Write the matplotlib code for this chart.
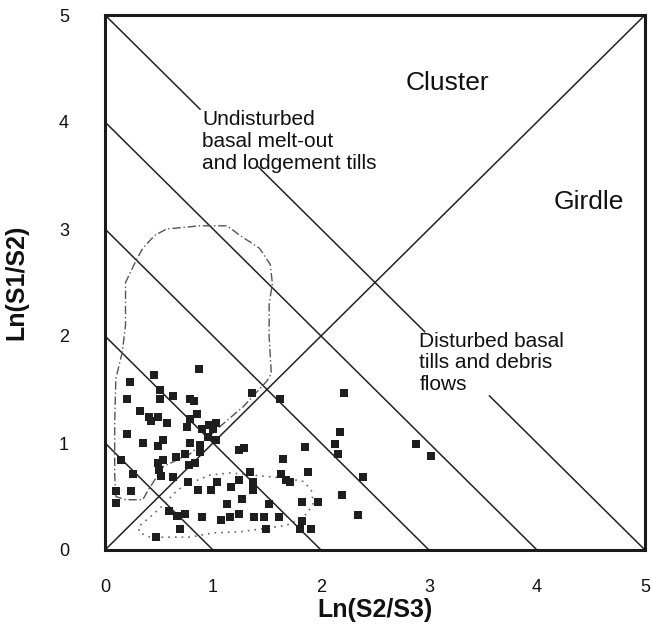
import numpy as np
import matplotlib.pyplot as plt

plt.rcParams['font.family'] = ['Liberation Sans', 'DejaVu Sans']

# точки: Ln(S2/S3), Ln(S1/S2)
x_pts = [0.87, 0.45, 0.23, 0.51, 0.63, 0.51, 0.20, 0.79, 0.82, 0.32,
         0.41, 0.49, 0.43, 0.57, 0.85, 0.79, 0.76, 0.90, 0.96, 1.03,
         1.00, 0.95, 1.03, 0.20, 0.35, 0.54, 0.49, 0.79, 0.88, 0.88,
         0.66, 0.74, 0.15, 0.54, 0.49, 0.50, 0.52, 0.78, 0.83, 0.26,
         0.63, 1.24, 1.29, 1.36, 1.62, 2.21, 2.18, 2.13, 2.16, 1.85,
         1.65, 1.88, 1.63, 1.68, 1.71, 1.34, 1.37, 1.37, 0.77, 1.04,
         1.24, 1.17, 0.86, 0.98, 0.10, 0.10, 0.24, 2.19, 1.27, 1.13,
         1.52, 1.82, 1.97, 0.59, 0.67, 0.74, 0.90, 1.07, 1.16, 1.24,
         1.38, 1.47, 1.61, 0.69, 1.49, 1.82, 1.81, 1.91, 0.47, 2.39,
         2.34, 2.88, 3.02]
y_pts = [1.69, 1.64, 1.57, 1.50, 1.44, 1.41, 1.41, 1.41, 1.39, 1.30,
         1.24, 1.24, 1.21, 1.19, 1.27, 1.22, 1.15, 1.13, 1.17, 1.19,
         1.13, 1.06, 1.03, 1.08, 1.00, 1.03, 0.97, 1.00, 0.98, 0.92,
         0.87, 0.90, 0.84, 0.84, 0.81, 0.75, 0.69, 0.79, 0.81, 0.71,
         0.68, 0.93, 0.95, 1.47, 1.41, 1.47, 1.10, 0.99, 0.90, 0.96,
         0.85, 0.73, 0.71, 0.65, 0.64, 0.73, 0.64, 0.56, 0.64, 0.64,
         0.65, 0.59, 0.56, 0.56, 0.55, 0.44, 0.55, 0.51, 0.48, 0.43,
         0.43, 0.45, 0.45, 0.36, 0.32, 0.34, 0.31, 0.28, 0.31, 0.34,
         0.31, 0.31, 0.31, 0.20, 0.20, 0.27, 0.20, 0.20, 0.12, 0.68,
         0.33, 0.99, 0.88]

# контур (штрихпунктир)
tall_x = [0.10, 0.09, 0.09, 0.10, 0.16, 0.19, 0.19, 0.29, 0.35, 0.46,
          0.57, 0.88, 1.13, 1.25, 1.43, 1.53, 1.55, 1.52, 1.52, 1.54,
          1.50, 1.28, 1.06, 0.79, 0.54, 0.40, 0.35, 0.19, 0.10]
tall_y = [0.50, 0.70, 1.20, 1.60, 1.85, 2.10, 2.50, 2.71, 2.82, 2.94,
          3.00, 3.03, 3.03, 2.94, 2.82, 2.67, 2.49, 2.30, 1.99, 1.65,
          1.58, 1.34, 1.15, 0.90, 0.78, 0.56, 0.47, 0.47, 0.50]

# контур (точки)
low_x = [0.85, 0.97, 1.16, 1.47, 1.68, 1.84, 1.91, 1.93, 1.87, 1.78,
         1.68, 1.47, 1.25, 1.00, 0.79, 0.57, 0.42, 0.32, 0.31, 0.42,
         0.54, 0.66, 0.79, 0.85]
low_y = [0.65, 0.70, 0.72, 0.69, 0.67, 0.64, 0.56, 0.44, 0.34, 0.28,
         0.23, 0.20, 0.17, 0.16, 0.12, 0.12, 0.12, 0.16, 0.22, 0.31,
         0.42, 0.55, 0.64, 0.65]

# линии x + y = const
sum_levels = [1, 2, 3, 4]
# линия x + y = 5 с разрывами под подписи
level5_pieces = [(0.0, 0.88), (1.42, 2.96), (3.56, 5.0)]

tick_vals = [0, 1, 2, 3, 4, 5]

fig = plt.figure(figsize=(6.51, 6.32), dpi=100)
ax = fig.add_axes([105 / 651, 82 / 632, 540 / 651, 535 / 632])

lc = '#222222'
for c in sum_levels:
    xs = np.array([0, c])
    ax.plot(xs, c - xs, color=lc, lw=1.1)
for a, b in level5_pieces:
    xs = np.array([a, b])
    ax.plot(xs, 5 - xs, color=lc, lw=1.1)
ax.plot([0, 5], [0, 5], color=lc, lw=1.1)

ax.plot(tall_x, tall_y, color='#555555', lw=1.0, ls=(0, (6, 2, 1, 2)))
ax.plot(low_x, low_y, color='#666666', lw=1.2, ls=(0, (1, 3)))

ax.plot(x_pts, y_pts, 's', color='#1e1e1e', ms=5.3, mew=0)

ax.text(3.17, 4.36, 'Cluster', fontsize=19, ha='center', va='center', color='#111111')
ax.text(4.48, 3.25, 'Girdle', fontsize=19, ha='center', va='center', color='#111111')
ax.text(0.90, 3.82, 'Undisturbed\nbasal melt-out\nand lodgement tills',
        fontsize=15, ha='left', va='center', linespacing=1.2, color='#111111')
ax.text(2.91, 1.75, 'Disturbed basal\ntills and debris\nflows',
        fontsize=15, ha='left', va='center', linespacing=1.15, color='#111111')

ax.set_xlim(0, 5)
ax.set_ylim(0, 5)
ax.set_xticks(tick_vals)
ax.set_yticks(tick_vals)
ax.tick_params(length=0, labelsize=13, colors='#111111')
ax.tick_params(axis='x', pad=21)
ax.tick_params(axis='y', pad=26)
for s in ax.spines.values():
    s.set_linewidth(2.2)
    s.set_color('#1a1a1a')

ax.set_xlabel('Ln(S2/S3)', fontsize=18, fontweight='bold', labelpad=1, color='#111111')
ax.set_ylabel('Ln(S1/S2)', fontsize=18, fontweight='bold', labelpad=22, color='#111111')

fig.savefig('out.png', dpi=100)
